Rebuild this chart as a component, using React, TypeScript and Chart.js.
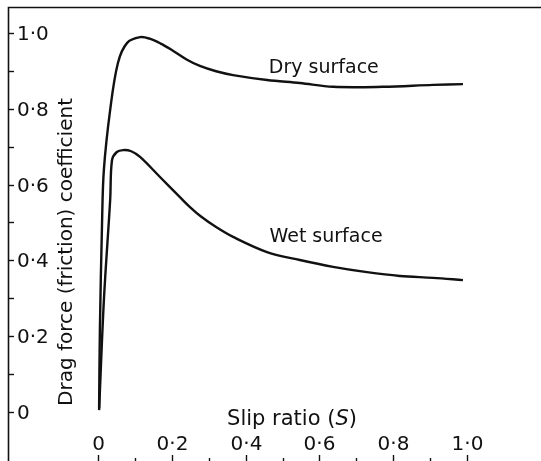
import React, { useEffect, useRef } from "react";
import { Chart, registerables } from "chart.js";

Chart.register(...registerables);

// Slip ratio (S) vs drag force (friction) coefficient
const slipDry = [0.003, 0.005, 0.011, 0.016, 0.033, 0.054, 0.079, 0.114, 0.14, 0.17, 0.2, 0.24, 0.276, 0.32, 0.366, 0.458, 0.547, 0.637, 0.772, 0.908, 0.989];
const frictionDry = [0.01, 0.21, 0.5, 0.64, 0.797, 0.921, 0.974, 0.989, 0.985, 0.972, 0.955, 0.93, 0.913, 0.899, 0.889, 0.876, 0.868, 0.858, 0.858, 0.863, 0.865];

const slipWet = [0.003, 0.016, 0.033, 0.038, 0.051, 0.068, 0.09, 0.114, 0.168, 0.222, 0.25, 0.28, 0.32, 0.366, 0.458, 0.547, 0.637, 0.729, 0.818, 0.908, 0.989];
const frictionWet = [0.005, 0.296, 0.56, 0.665, 0.686, 0.691, 0.688, 0.673, 0.62, 0.567, 0.54, 0.515, 0.488, 0.462, 0.422, 0.401, 0.383, 0.369, 0.359, 0.354, 0.348];

const seriesNames = ["Dry surface", "Wet surface"];
// label anchor points (data coordinates)
const labelSlip = [0.612, 0.618];
const labelFriction = [0.908, 0.462];

const yTickValues = [0, 0.1, 0.2, 0.3, 0.4, 0.5, 0.6, 0.7, 0.8, 0.9, 1.0];
const yTickLabels = ["0", "", "0·2", "", "0·4", "", "0·6", "", "0·8", "", "1·0"];
const xTickValues = [0, 0.1, 0.2, 0.3, 0.4, 0.5, 0.6, 0.7, 0.8, 0.9, 1.0];
const xTickLabels = ["0", "", "0·2", "", "0·4", "", "0·6", "", "0·8", "", "1·0"];

const xTitleParts = ["Slip ratio (", "S", ")"];
const yTitle = "Drag force (friction) coefficient";

const FONT = '"DejaVu Sans", "Liberation Sans", sans-serif';

const paperAxes = {
  id: "paperAxes",
  afterDraw(chart: any) {
    const ctx = chart.ctx as CanvasRenderingContext2D;
    const xs = chart.scales.x;
    const ys = chart.scales.y;
    const a = chart.chartArea;
    ctx.save();
    ctx.strokeStyle = "#111";
    ctx.fillStyle = "#111";

    // frame: left axis and top border
    ctx.lineWidth = 1.6;
    ctx.beginPath();
    ctx.moveTo(a.left + 0.5, a.bottom);
    ctx.lineTo(a.left + 0.5, a.top + 0.5);
    ctx.lineTo(a.right, a.top + 0.5);
    ctx.stroke();

    // y ticks + labels (inside)
    ctx.lineWidth = 1.4;
    ctx.font = `20px ${FONT}`;
    ctx.textAlign = "left";
    ctx.textBaseline = "middle";
    yTickValues.forEach((v, i) => {
      const py = Math.round(ys.getPixelForValue(v)) + 0.5;
      ctx.beginPath();
      ctx.moveTo(a.left, py);
      ctx.lineTo(a.left + 6, py);
      ctx.stroke();
      if (yTickLabels[i]) ctx.fillText(yTickLabels[i], a.left + 9, py + 1);
    });

    // x ticks (rising from bottom edge) + labels
    ctx.textAlign = "center";
    xTickValues.forEach((v, i) => {
      const px = Math.round(xs.getPixelForValue(v)) + 0.5;
      const major = !!xTickLabels[i];
      ctx.beginPath();
      ctx.moveTo(px, a.bottom);
      ctx.lineTo(px, a.bottom - (major ? 6 : 3));
      ctx.stroke();
      if (major) ctx.fillText(xTickLabels[i], px, a.bottom - 16);
    });

    // x title with italic S
    const normal = `21px ${FONT}`;
    const italic = `italic 21px ${FONT}`;
    const fonts = [normal, italic, normal];
    const widths = xTitleParts.map((t, i) => {
      ctx.font = fonts[i];
      return ctx.measureText(t).width;
    });
    const total = widths.reduce((s, w) => s + w, 0);
    let x0 = 292 - total / 2;
    ctx.textAlign = "left";
    xTitleParts.forEach((t, i) => {
      ctx.font = fonts[i];
      ctx.fillText(t, x0, 420);
      x0 += widths[i];
    });

    // y title rotated
    ctx.save();
    ctx.translate(67, 252);
    ctx.rotate(-Math.PI / 2);
    ctx.font = `20px ${FONT}`;
    ctx.textAlign = "center";
    ctx.fillText(yTitle, 0, 0);
    ctx.restore();

    // series labels
    ctx.font = `19px ${FONT}`;
    ctx.textAlign = "center";
    seriesNames.forEach((n, i) => {
      ctx.fillText(n, xs.getPixelForValue(labelSlip[i]), ys.getPixelForValue(labelFriction[i]));
    });
    ctx.restore();
  },
};

export default function App() {
  const ref = useRef<HTMLCanvasElement | null>(null);
  useEffect(() => {
    if (!ref.current) return;
    const mk = (xs: number[], ys: number[]) => xs.map((x, i) => ({ x, y: ys[i] }));
    const chart = new Chart(ref.current, {
      type: "line",
      data: {
        datasets: [
          {
            label: seriesNames[0],
            data: mk(slipDry, frictionDry),
            borderColor: "#111",
            borderWidth: 2.4,
            pointRadius: 0,
            tension: 0.35,
            fill: false,
          },
          {
            label: seriesNames[1],
            data: mk(slipWet, frictionWet),
            borderColor: "#111",
            borderWidth: 2.4,
            pointRadius: 0,
            tension: 0.35,
            fill: false,
          },
        ],
      },
      options: {
        animation: false,
        responsive: false,
        devicePixelRatio: 1,
        layout: { padding: { left: 8, top: 7, right: 0, bottom: 0 } },
        plugins: { legend: { display: false }, tooltip: { enabled: false } },
        scales: {
          x: { type: "linear", display: false, min: -0.2439, max: 1.2005 },
          y: { type: "linear", display: false, min: -0.1293, max: 1.0686 },
        },
      },
      plugins: [paperAxes],
    });
    return () => chart.destroy();
  }, []);
  return (
    <div style={{ position: "fixed", left: 0, top: 0, width: 541, height: 461, background: "#fff", overflow: "hidden" }}>
      <canvas ref={ref} width={541} height={461} style={{ display: "block" }} />
    </div>
  );
}
